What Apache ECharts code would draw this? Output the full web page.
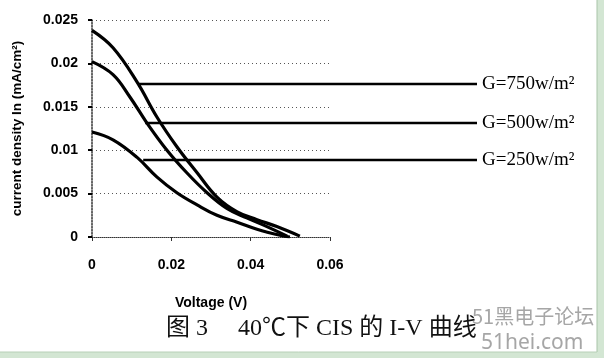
<!DOCTYPE html>
<html><head><meta charset="utf-8">
<script src="https://cdn.jsdelivr.net/npm/echarts@6/dist/echarts.min.js"></script>
<style>html,body{margin:0;padding:0;background:#fff}#c{width:604px;height:358px}</style>
</head><body><div id="c"></div>
<script>
// Curves: [voltage, current density]
const curve750 = [[0,0.0238],[0.0053,0.0218],[0.0113,0.0179],[0.0164,0.0138],[0.0214,0.0104],[0.0265,0.0074],[0.0315,0.0046],[0.0366,0.0029],[0.0416,0.0020],[0.0466,0.0012],[0.0524,0.0001]];
const curve500 = [[0,0.0202],[0.0053,0.0187],[0.0096,0.0161],[0.0139,0.0131],[0.0189,0.0100],[0.0239,0.0074],[0.029,0.0051],[0.034,0.0033],[0.039,0.0022],[0.0441,0.0012],[0.0492,0.0001]];
const curve250 = [[0,0.0121],[0.0053,0.0112],[0.0113,0.0092],[0.0164,0.0069],[0.0214,0.0051],[0.0265,0.0037],[0.0315,0.0025],[0.0366,0.0017],[0.0416,0.0009],[0.0474,0.0002],[0.0499,0]];
const seriesNames = ['G=750w/m²','G=500w/m²','G=250w/m²'];
// Leader lines: [startX, endX, y]
const leaderStartX = [0.0116, 0.0134, 0.0129];
const leaderEndX = [0.097, 0.097, 0.097];
const leaderY = [0.01763, 0.01313, 0.00887];
const xAxisName = 'Voltage (V)';
const yAxisName = 'current density In (mA/cm²)';
const caption = '图 3　 40℃下 CIS 的 I-V 曲线';

const chart = echarts.init(document.getElementById('c'), null, {renderer:'canvas'});
const axisFont = {fontFamily:'Liberation Sans', fontWeight:'bold', fontSize:14, color:'#000'};
const curves = [curve750, curve500, curve250];
const series = curves.map((d,i)=>({
  type:'line', name:seriesNames[i], xAxisIndex:0, yAxisIndex:0, data:d, smooth:0.4,
  showSymbol:false, lineStyle:{color:'#000', width:3.2}, z:3
}));
leaderY.forEach((y,i)=>{
  series.push({
    type:'line', xAxisIndex:1, yAxisIndex:1, data:[[leaderStartX[i],y],[leaderEndX[i],y]],
    showSymbol:false, lineStyle:{color:'#000', width:2.5}, z:3,
    endLabel:{show:true, formatter:seriesNames[i], distance:5, fontFamily:'Liberation Serif', fontSize:19, color:'#000'}
  });
});
chart.setOption({
  animation:false,
  backgroundColor:'#fff',
  grid:[{left:92, right:274, top:20, bottom:121},{left:92, right:127, top:20, bottom:121}],
  xAxis:[{
    type:'value', min:0, max:0.06, interval:0.02, gridIndex:0,
    name:xAxisName, nameLocation:'middle', nameGap:59, nameTextStyle:axisFont,
    axisLine:{show:true, lineStyle:{color:'#333', type:'dotted'}},
    axisTick:{show:true, length:4, lineStyle:{color:'#333'}},
    axisLabel:Object.assign({margin:21}, axisFont),
    splitLine:{show:false}
  },{
    type:'value', min:0, max:0.097, gridIndex:1, show:false
  }],
  yAxis:[{
    type:'value', min:0, max:0.025, interval:0.005, gridIndex:0,
    name:yAxisName, nameLocation:'middle', nameRotate:90, nameGap:68, nameTextStyle:Object.assign({}, axisFont, {fontSize:13.5}),
    axisLine:{show:true, lineStyle:{color:'#333', type:'dotted', width:1.5}},
    axisTick:{show:true, length:4, inside:false, lineStyle:{color:'#000', width:2}},
    axisLabel:Object.assign({margin:14}, axisFont),
    splitLine:{show:true, lineStyle:{color:'#555', type:[1,3], width:1.2}}
  },{
    type:'value', min:0, max:0.025, gridIndex:1, show:false
  }],
  series:series,
  graphic:[
    {type:'text', left:166, top:317, style:{text:caption, font:'24px "Liberation Serif", "Noto Sans CJK SC"', fill:'#111'}},
    {type:'text', left:472, top:306, style:{text:'51黑电子论坛', font:'20px "Noto Sans CJK SC"', fill:'#a6a6a6'}},
    {type:'text', left:481, top:333, style:{text:'51hei.com', font:'21px "Noto Sans"', fill:'#a6a6a6'}},
    {type:'rect', shape:{x:597, y:0, width:7, height:358}, style:{fill:'#d3e6d3'}, z:10},
    {type:'rect', shape:{x:0, y:352, width:604, height:6}, style:{fill:'#d3e6d3'}, z:10},
    {type:'line', shape:{x1:597, y1:0, x2:597, y2:352}, style:{stroke:'#a9c4a9', lineWidth:1}, z:11},
    {type:'line', shape:{x1:0, y1:352, x2:597, y2:352}, style:{stroke:'#b8d0b8', lineWidth:1}, z:11}
  ]
});
</script></body></html>
